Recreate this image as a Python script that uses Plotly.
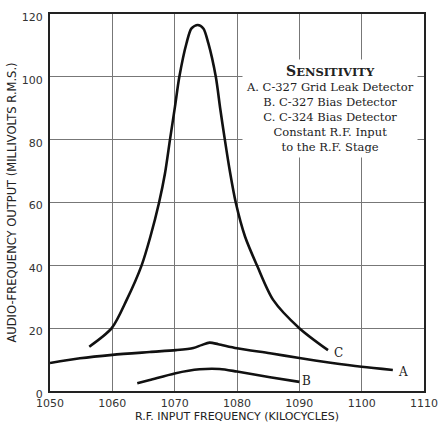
import plotly.graph_objects as go

# Curve C: C-324 Bias Detector
c_x = [1056.3, 1059.9, 1062.3, 1064.7, 1066.1, 1067.5, 1068.45, 1069.25, 1070.05, 1070.75, 1071.9, 1072.7, 1073.7,
       1074.6, 1075.4, 1076.6, 1077.3, 1078.05, 1078.85, 1079.8, 1081.3, 1083.2, 1085.8, 1090.0, 1094.6]
c_y = [14.1, 20.0, 29.0, 40.0, 49.1, 60.0, 69.3, 80.0, 90.5, 100.0, 110.7, 115.4, 116.5,
       115.4, 110.7, 100.0, 90.0, 80.0, 70.0, 60.0, 49.1, 40.0, 29.0, 20.0, 13.0]

# Curve A: C-327 Grid Leak Detector
a_x = [1050, 1054.8, 1060, 1066, 1070.2, 1073, 1074.3, 1075.6, 1077, 1080, 1085.3, 1090, 1095, 1100, 1105]
a_y = [8.9, 10.4, 11.5, 12.4, 13.0, 13.7, 14.6, 15.4, 14.9, 13.6, 12.0, 10.5, 9.0, 7.7, 6.7]

# Curve B: C-327 Bias Detector
b_x = [1064, 1066, 1070, 1074, 1077.2, 1080, 1085.3, 1090]
b_y = [2.5, 3.5, 5.6, 6.9, 7.0, 6.2, 4.4, 2.9]

x_ticks = [1050, 1060, 1070, 1080, 1090, 1100, 1110]
y_ticks = [0, 20, 40, 60, 80, 100, 120]

curve_labels = ["C", "A", "B"]
label_x = [1096.3, 1106.6, 1091.2]
label_y = [12.0, 6.0, 3.2]

fig = go.Figure()
for xs, ys in [(c_x, c_y), (a_x, a_y), (b_x, b_y)]:
    fig.add_trace(go.Scatter(x=xs, y=ys, mode="lines",
                             line=dict(color="#111111", width=2.6, shape="spline", smoothing=0.8),
                             showlegend=False, hoverinfo="skip"))

for t, lx, ly in zip(curve_labels, label_x, label_y):
    fig.add_annotation(x=lx, y=ly, text=t, showarrow=False,
                       font=dict(family="DejaVu Serif", size=12, color="#222"),
                       xanchor="center", yanchor="middle")

box_text = ("<b><span style='font-size:14px'>S</span>ENSITIVITY</b><br>"
            "A. C-327 Grid Leak Detector<br>"
            "B. C-327 Bias Detector<br>"
            "C. C-324 Bias Detector<br>"
            "Constant R.F. Input<br>"
            "to the R.F. Stage")
fig.add_annotation(x=1094.9, y=89.8, text=box_text, showarrow=False,
                   font=dict(family="DejaVu Serif", size=11.5, color="#222"),
                   bgcolor="white", align="center", xanchor="center", yanchor="middle",
                   borderpad=3)

axis_common = dict(showgrid=True, gridcolor="#777777", gridwidth=1,
                   showline=True, linecolor="#222222", linewidth=2, mirror=True,
                   ticks="", zeroline=False, automargin=False,
                   tickfont=dict(family="DejaVu Sans", size=11, color="#333"))

fig.update_xaxes(range=[1050, 1110], tickvals=x_ticks, ticklabelstandoff=1,
                 title=dict(text="R.F. INPUT FREQUENCY (KILOCYCLES)",
                            font=dict(family="DejaVu Sans", size=11, color="#222"), standoff=2),
                 **axis_common)
fig.update_yaxes(range=[0, 120], tickvals=y_ticks, ticklabelshift=3, ticklabelstandoff=3,
                 title=dict(text="AUDIO-FREQUENCY OUTPUT (MILLIVOLTS R.M.S.)",
                            font=dict(family="DejaVu Sans", size=11.5, color="#222"), standoff=3),
                 **axis_common)

fig.update_layout(width=441, height=428, margin=dict(l=50, r=17, t=14, b=37),
                  plot_bgcolor="white", paper_bgcolor="white")

fig.write_html("out.html", config={"displayModeBar": False},
               post_script="document.body.style.margin='0';document.body.style.overflow='hidden';")
